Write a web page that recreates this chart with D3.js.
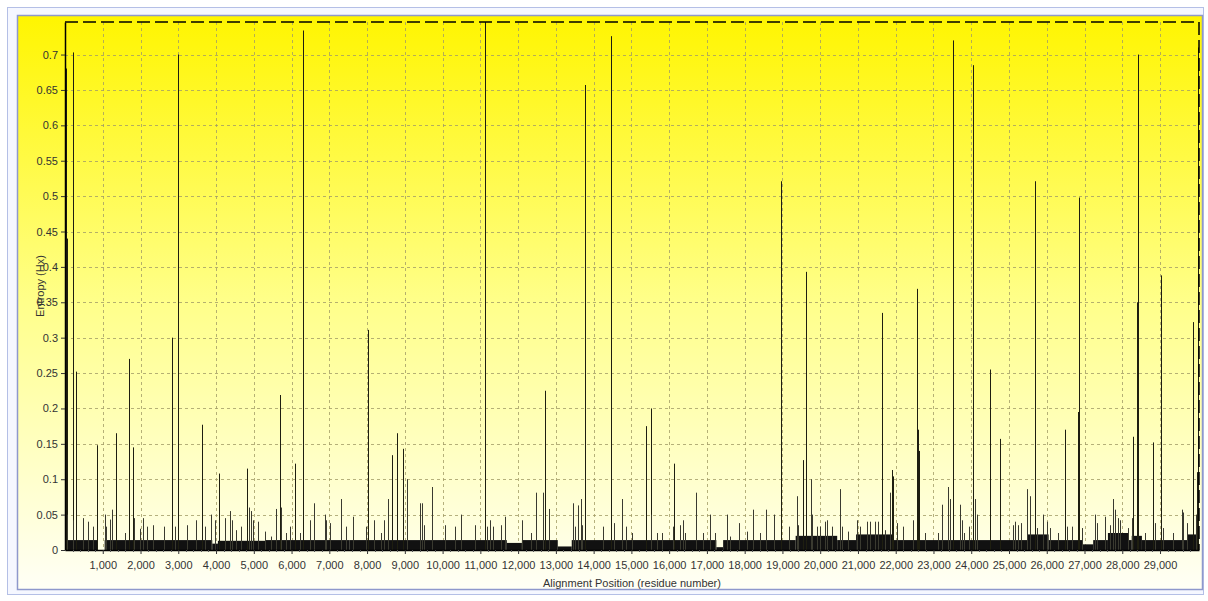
<!DOCTYPE html>
<html>
<head>
<meta charset="utf-8">
<script src="https://cdn.jsdelivr.net/npm/d3@7"></script>
<style>
  body { margin: 0; background: #fff; }
  svg { display: block; font-family: "Liberation Sans", Arial, sans-serif; }
</style>
</head>
<body>
<svg id="chart"></svg>
<script>
// tick values
let yTicks = [0, 0.05, 0.1, 0.15, 0.2, 0.25, 0.3, 0.35, 0.4, 0.45, 0.5, 0.55, 0.6, 0.65, 0.7];
let xTicks = [1000, 2000, 3000, 4000, 5000, 6000, 7000, 8000, 9000, 10000, 11000, 12000, 13000, 14000, 15000,
  16000, 17000, 18000, 19000, 20000, 21000, 22000, 23000, 24000, 25000, 26000, 27000, 28000, 29000];

// dense low entropy floor: [from, to, entropy]
let baseRuns = [
  [0, 870, 0.014], [1050, 3900, 0.014], [3900, 4050, 0.009], [4050, 5300, 0.013], [5300, 7540, 0.014],
  [7540, 11700, 0.014], [11700, 12100, 0.010], [12100, 13050, 0.014], [13050, 13420, 0.005],
  [13420, 17250, 0.014], [17250, 17430, 0.004], [17430, 19350, 0.014], [19350, 20450, 0.02],
  [20450, 20950, 0.014], [20950, 21950, 0.022], [21950, 25500, 0.014], [25500, 26050, 0.022],
  [26050, 26950, 0.014], [26950, 27230, 0.008], [27230, 27620, 0.014], [27620, 28160, 0.024],
  [28160, 28250, 0.014], [28250, 28520, 0.02], [28520, 29740, 0.014], [29740, 29960, 0.022]
];

// single positions sticking out of the floor: [position, entropy]
let spikes = [
  [5, 0.68], [18, 0.68], [30, 0.68], [45, 0.44], [60, 0.05],
  [213, 0.703], [225, 0.042], [284, 0.252], [478, 0.045], [611, 0.04], [743, 0.033], [849, 0.148],
  [1052, 0.05], [1096, 0.033], [1185, 0.043], [1255, 0.057], [1361, 0.165], [1582, 0.024], [1688, 0.27],
  [1803, 0.145], [1820, 0.045], [1979, 0.03], [2068, 0.045], [2173, 0.033], [2332, 0.035], [2615, 0.033],
  [2827, 0.30], [2906, 0.033], [2995, 0.70], [3233, 0.035], [3463, 0.042], [3630, 0.177], [3701, 0.033],
  [3878, 0.05], [3966, 0.042], [4081, 0.108], [4249, 0.045], [4363, 0.055], [4434, 0.042], [4540, 0.028],
  [4672, 0.033], [4822, 0.115], [4866, 0.06], [4937, 0.055], [4981, 0.042], [5114, 0.04], [5308, 0.026],
  [5467, 0.019], [5582, 0.058], [5688, 0.219], [5732, 0.06], [5847, 0.024], [5953, 0.033], [6085, 0.122],
  [6218, 0.024], [6296, 0.395], [6306, 0.734], [6483, 0.042], [6588, 0.066], [6880, 0.05], [6924, 0.042],
  [7012, 0.038], [7321, 0.072], [7454, 0.033],
  [7630, 0.047], [7983, 0.033], [8027, 0.311], [8186, 0.042], [8363, 0.024], [8451, 0.042], [8557, 0.072],
  [8672, 0.134], [8795, 0.165], [8954, 0.143], [9069, 0.10], [9396, 0.066], [9458, 0.066], [9502, 0.035],
  [9722, 0.089], [10058, 0.035], [10323, 0.033], [10500, 0.05], [10853, 0.035], [11118, 0.746],
  [11188, 0.033], [11250, 0.042], [11338, 0.033], [11559, 0.035], [11647, 0.047], [12107, 0.042],
  [12354, 0.024], [12486, 0.081], [12663, 0.081], [12725, 0.225], [12813, 0.058], [13458, 0.066],
  [13502, 0.033], [13590, 0.063], [13661, 0.072], [13696, 0.035], [13784, 0.657], [14252, 0.033],
  [14473, 0.726], [14544, 0.038], [14738, 0.072], [14870, 0.033],
  [15003, 0.024], [15374, 0.175], [15506, 0.20], [15515, 0.05], [15665, 0.024], [15798, 0.024],
  [16089, 0.033], [16133, 0.122], [16284, 0.035], [16354, 0.042], [16416, 0.024], [16699, 0.081],
  [16902, 0.024], [17078, 0.05], [17211, 0.024], [17520, 0.05], [17608, 0.019], [17855, 0.038],
  [18050, 0.026], [18226, 0.057], [18403, 0.024], [18562, 0.057], [18774, 0.05], [18950, 0.26],
  [18959, 0.521], [19180, 0.033], [19374, 0.076], [19418, 0.035], [19551, 0.127], [19612, 0.393],
  [19754, 0.10], [19789, 0.05], [19904, 0.033], [19992, 0.033], [20125, 0.04], [20169, 0.042],
  [20301, 0.033], [20522, 0.086], [20566, 0.033], [20743, 0.026], [20981, 0.042], [21052, 0.033],
  [21228, 0.04], [21317, 0.04], [21449, 0.04], [21537, 0.04], [21626, 0.335], [21640, 0.225],
  [21714, 0.028], [21846, 0.081], [21891, 0.113], [21935, 0.104], [22023, 0.038], [22200, 0.033],
  [22447, 0.042], [22553, 0.369], [22597, 0.17], [22615, 0.14],
  [22774, 0.024], [23127, 0.024], [23215, 0.064], [23392, 0.089], [23436, 0.072], [23524, 0.72],
  [23701, 0.064], [23745, 0.042], [23816, 0.024], [23939, 0.033], [24054, 0.685], [24098, 0.072],
  [24143, 0.05], [24496, 0.255], [24761, 0.157], [25114, 0.035], [25158, 0.04], [25246, 0.035],
  [25317, 0.038], [25467, 0.086], [25555, 0.076], [25680, 0.26], [25688, 0.521], [25732, 0.031],
  [25909, 0.05], [25997, 0.04], [26085, 0.031], [26306, 0.024], [26483, 0.17], [26527, 0.033],
  [26659, 0.033], [26840, 0.195], [26853, 0.498], [26924, 0.031], [27277, 0.05], [27321, 0.038],
  [27542, 0.047], [27675, 0.035], [27763, 0.072], [27807, 0.057], [27895, 0.045], [27939, 0.042],
  [28160, 0.031], [28249, 0.045], [28293, 0.16], [28399, 0.35], [28420, 0.70], [28602, 0.024],
  [28822, 0.152], [28867, 0.038], [29026, 0.388], [29087, 0.031], [29352, 0.024], [29573, 0.057],
  [29617, 0.053], [29705, 0.038], [29882, 0.322], [29960, 0.05], [29975, 0.08], [29990, 0.11],
  [30000, 0.15], [30008, 0.25], [30015, 0.45], [30022, 0.6], [30028, 0.71]
];

let width = 1208;
let height = 601;
let plot = { left: 65, right: 1199, top: 22, bottom: 550 };

let svg = d3.select('#chart').attr('width', width).attr('height', height);

let xScale = d3.scaleLinear().domain([0, 30032]).range([plot.left, plot.right]);
let yScale = d3.scaleLinear().domain([0, 0.746]).range([plot.bottom, plot.top]);

// panel + gradient
let grad = svg.append('defs').append('linearGradient')
  .attr('id', 'bg').attr('x1', 0).attr('y1', 0).attr('x2', 0).attr('y2', 1);
grad.append('stop').attr('offset', '0%').attr('stop-color', '#fff500');
grad.append('stop').attr('offset', '50%').attr('stop-color', '#ffff8a');
grad.append('stop').attr('offset', '100%').attr('stop-color', '#fffff6');

svg.append('rect').attr('x', 7.5).attr('y', 7.5).attr('width', 1196).attr('height', 587)
  .attr('fill', '#f5f7ff').attr('stroke', '#b4bfe6');
svg.append('rect').attr('x', 17.5).attr('y', 15.5).attr('width', 1185).attr('height', 574)
  .attr('fill', 'url(#bg)').attr('stroke', '#8e98cc').attr('stroke-width', 1.5);

// grid
svg.append('g').selectAll('line').data(yTicks.filter(d => d > 0)).enter().append('line')
  .attr('x1', plot.left).attr('x2', plot.right)
  .attr('y1', d => Math.round(yScale(d)) + 0.5).attr('y2', d => Math.round(yScale(d)) + 0.5)
  .attr('stroke', '#a39c66').attr('stroke-opacity', 0.8).attr('stroke-dasharray', '3,3');
svg.append('g').selectAll('line').data(xTicks).enter().append('line')
  .attr('x1', d => Math.round(xScale(d)) + 0.5).attr('x2', d => Math.round(xScale(d)) + 0.5)
  .attr('y1', plot.top).attr('y2', plot.bottom)
  .attr('stroke', '#a39c66').attr('stroke-opacity', 0.8).attr('stroke-dasharray', '3,3');

// low floor
svg.append('g').selectAll('rect').data(baseRuns).enter().append('rect')
  .attr('x', d => xScale(d[0]))
  .attr('width', d => xScale(d[1]) - xScale(d[0]))
  .attr('y', d => yScale(d[2]))
  .attr('height', d => plot.bottom - yScale(d[2]))
  .attr('fill', '#111');

// spikes
svg.append('g').selectAll('rect').data(spikes).enter().append('rect')
  .attr('x', d => Math.min(Math.round(xScale(d[0])), plot.right - 1))
  .attr('width', 1)
  .attr('y', d => yScale(d[1]))
  .attr('height', d => plot.bottom - yScale(d[1]))
  .attr('fill', d => d[1] > 0.1 ? '#1e1e10' : '#3a3a30');

// axes
let xAxis = d3.axisBottom(xScale).tickValues(xTicks).tickSize(4).tickSizeOuter(0)
  .tickFormat(d3.format(','));
let yAxis = d3.axisLeft(yScale).tickValues(yTicks).tickSize(4).tickSizeOuter(0)
  .tickFormat(d => d === 0 ? '0' : String(+d.toFixed(2)));

let gx = svg.append('g').attr('transform', 'translate(0,' + plot.bottom + ')').call(xAxis);
let gy = svg.append('g').attr('transform', 'translate(' + plot.left + ',0)').call(yAxis);
[gx, gy].forEach(g => {
  g.selectAll('text').attr('fill', '#333').style('font-size', '11px');
  g.selectAll('line').attr('stroke', '#333');
  g.select('.domain').attr('stroke', '#000').attr('stroke-width', 1.5);
});
gx.selectAll('text').attr('dy', '1.05em');

// minor x ticks
svg.append('g').selectAll('line').data(d3.range(200, 30000, 200).filter(d => d % 1000 !== 0)).enter()
  .append('line')
  .attr('x1', d => Math.round(xScale(d)) + 0.5).attr('x2', d => Math.round(xScale(d)) + 0.5)
  .attr('y1', plot.bottom).attr('y2', plot.bottom + 2).attr('stroke', '#555');

// top and right dashed borders
svg.append('line').attr('x1', plot.left).attr('x2', plot.right).attr('y1', plot.top).attr('y2', plot.top)
  .attr('stroke', '#000').attr('stroke-width', 1.5).attr('stroke-dasharray', '13,5');
svg.append('line').attr('x1', plot.right).attr('x2', plot.right).attr('y1', plot.top).attr('y2', plot.bottom)
  .attr('stroke', '#000').attr('stroke-width', 1.5).attr('stroke-dasharray', '13,5');

// titles
svg.append('text').attr('transform', 'translate(40,286) rotate(-90)')
  .attr('text-anchor', 'middle').attr('dy', '0.35em')
  .attr('fill', '#333').style('font-size', '11px').text('Entropy (Hx)');
svg.append('text').attr('x', (plot.left + plot.right) / 2).attr('y', 587)
  .attr('text-anchor', 'middle')
  .attr('fill', '#333').style('font-size', '11px').text('Alignment Position (residue number)');
</script>
</body>
</html>
